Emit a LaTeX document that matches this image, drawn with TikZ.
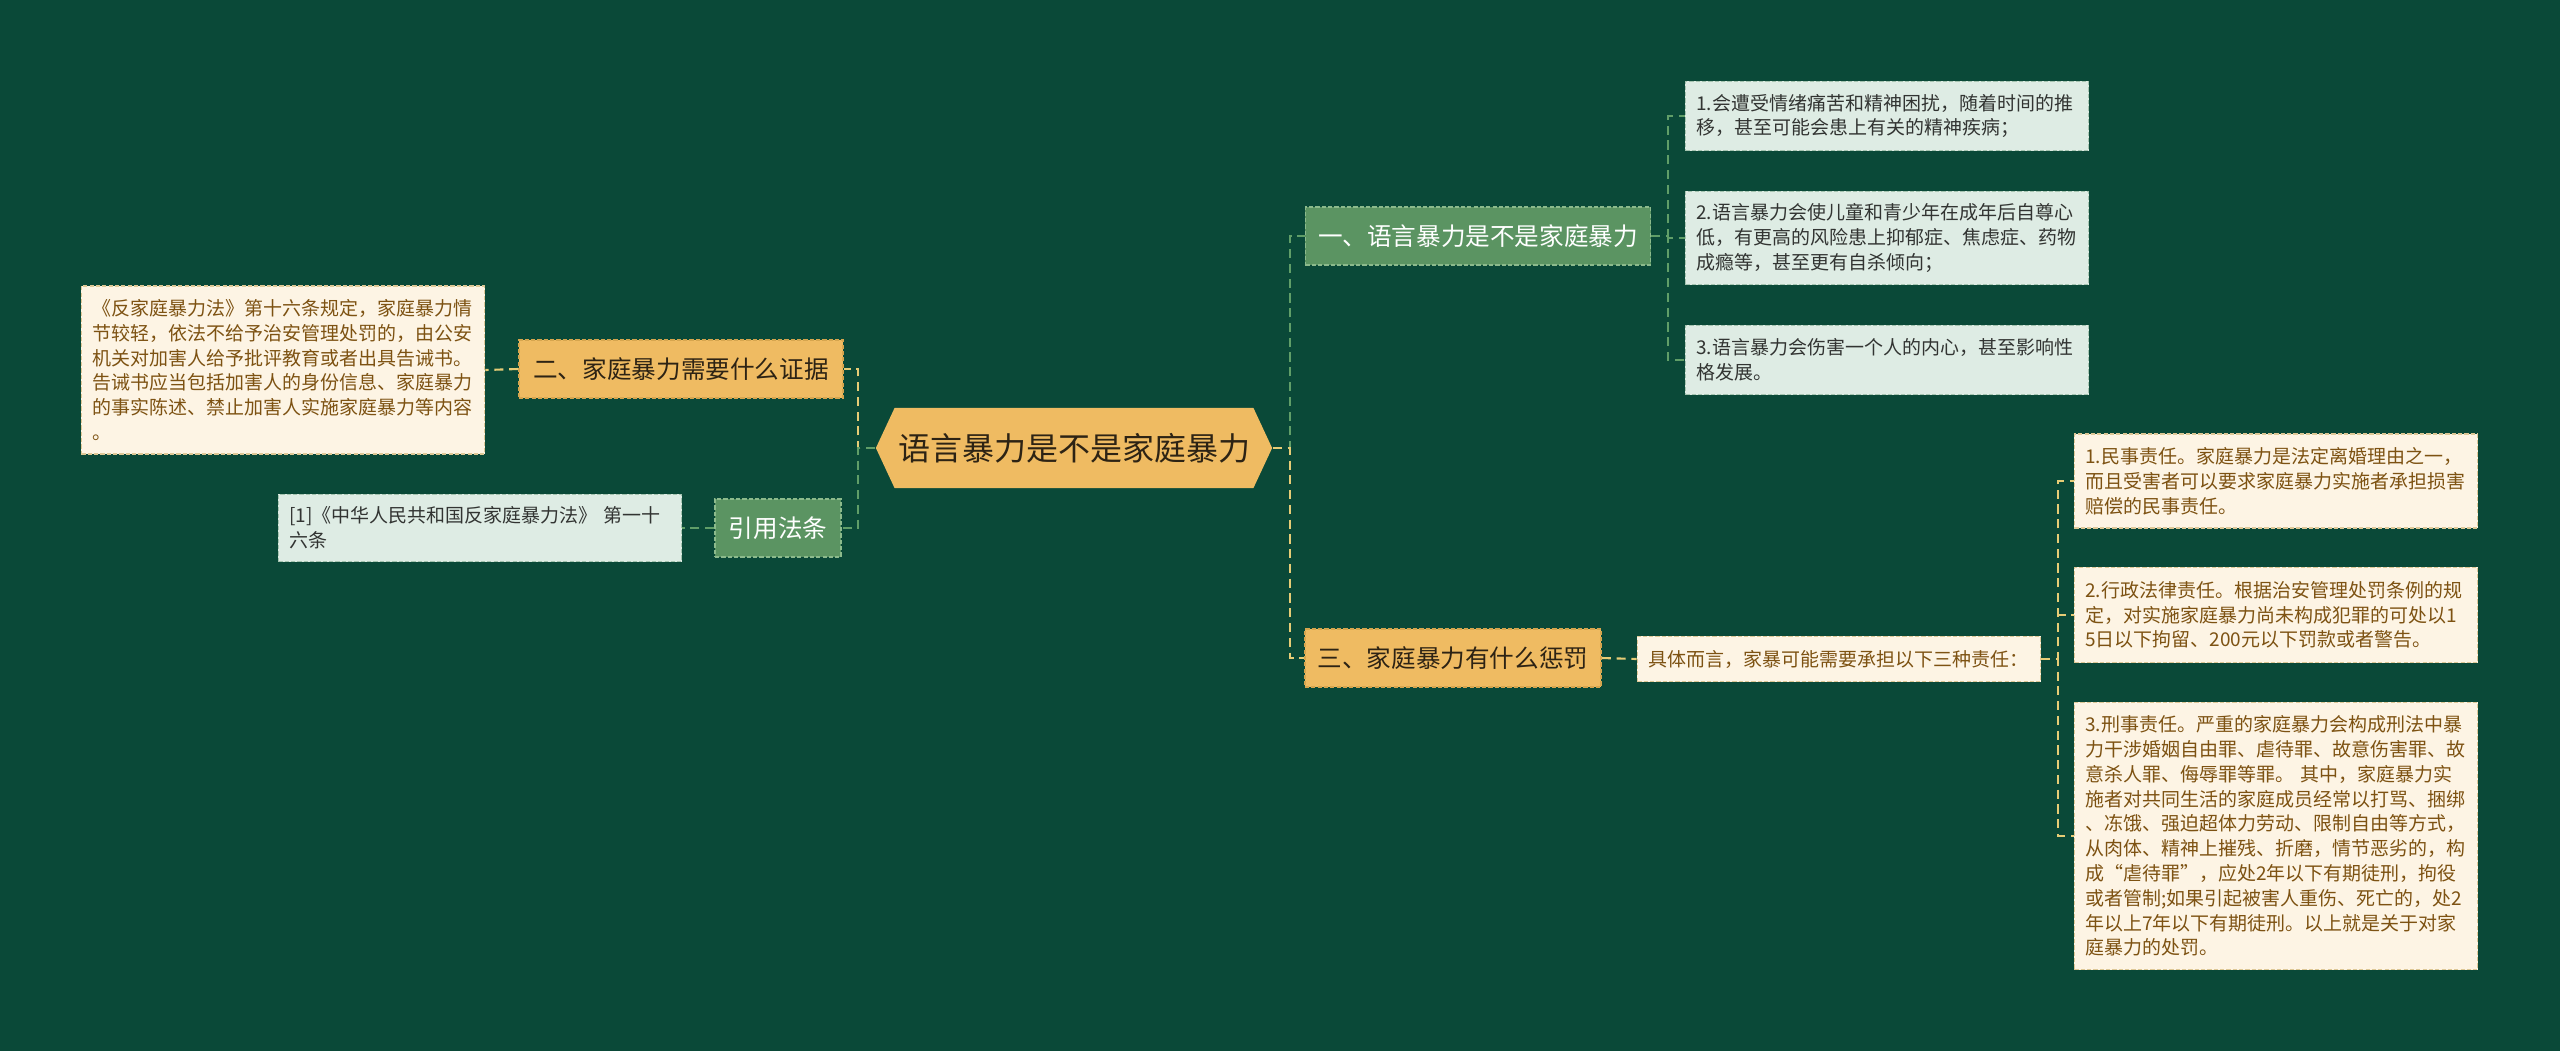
\documentclass[tikz,border=0pt]{standalone}
\usepackage{fontspec}
\setmainfont{Noto Sans CJK SC}
\usepackage{tikz}
\usetikzlibrary{shapes.symbols, positioning}
\definecolor{mybg}{RGB}{10,73,56}
\definecolor{mygreen}{RGB}{91,148,98}
\definecolor{myorange}{RGB}{239,187,98}
\definecolor{mymint}{RGB}{222,236,228}
\definecolor{mycream}{RGB}{253,244,228}
\definecolor{mybrown}{RGB}{125,82,18}
\definecolor{mydark}{RGB}{45,35,20}
\definecolor{mygray}{RGB}{50,52,50}
\definecolor{edgegreen}{RGB}{140,186,140}
\definecolor{edgeorange}{RGB}{214,165,78}
\definecolor{edgemint}{RGB}{165,196,176}
\definecolor{edgecream}{RGB}{222,200,150}
\definecolor{lngreen}{RGB}{96,158,104}
\definecolor{lnyellow}{RGB}{230,204,118}
\tikzset{
  hub/.style={shape=signal, signal to=east and west, signal pointer angle=130,
    fill=myorange, text=mydark, minimum width=3.96cm, minimum height=0.8cm,
    inner xsep=0pt, font=\fontsize{9.1pt}{11pt}\selectfont},
  greenbox/.style={rectangle, fill=mygreen, draw=edgegreen, line width=0.4pt,
    dash pattern=on 1.2pt off 0.6pt, text=white, minimum height=0.58cm,
    inner xsep=0pt, font=\fontsize{7pt}{8.5pt}\selectfont},
  orangebox/.style={rectangle, fill=myorange, draw=edgeorange, line width=0.4pt,
    dash pattern=on 1.2pt off 0.6pt, text=mydark, minimum height=0.58cm,
    inner xsep=0pt, font=\fontsize{7pt}{8.5pt}\selectfont},
  mintleaf/.style={rectangle, fill=mymint, draw=edgemint, line width=0.4pt,
    dash pattern=on 1.2pt off 0.6pt, text=mygray, text width=3.81cm,
    align=left, inner xsep=0.11cm, inner ysep=0pt,
    font=\fontsize{5.4pt}{7.05pt}\selectfont},
  creamleaf/.style={rectangle, fill=mycream, draw=edgecream, line width=0.4pt,
    dash pattern=on 1.2pt off 0.6pt, text=mybrown, text width=3.81cm,
    align=left, inner xsep=0.11cm, inner ysep=0pt,
    font=\fontsize{5.4pt}{7.05pt}\selectfont},
  gline/.style={draw=lngreen, line width=0.6pt, dash pattern=on 2.6pt off 1.6pt},
  yline/.style={draw=lnyellow, line width=0.6pt, dash pattern=on 2.6pt off 1.6pt}
}
\begin{document}
\begin{tikzpicture}[x=0.01cm, y=-0.01cm]
  \useasboundingbox (0,0) rectangle (2560,1051);
  \fill[mybg] (0,0) rectangle (2560,1051);

  % centre
  \node[hub] (root) at (1074,448) {语言暴力是不是家庭暴力};

  % first level
  \node[greenbox, minimum width=3.45cm] (one) at (1478,236) {一、语言暴力是不是家庭暴力};
  \node[orangebox, minimum width=2.96cm] (three) at (1453,658) {三、家庭暴力有什么惩罚};
  \node[orangebox, minimum width=3.24cm] (two) at (681,369) {二、家庭暴力需要什么证据};
  \node[greenbox, minimum width=1.26cm] (cite) at (778,528) {引用法条};

  % left leaves
  \node[creamleaf, minimum height=1.68cm] (twotxt) at (283,370)
    {《反家庭暴力法》第十六条规定，家庭暴力情\\节较轻，依法不给予治安管理处罚的，由公安\\机关对加害人给予批评教育或者出具告诫书。\\告诫书应当包括加害人的身份信息、家庭暴力\\的事实陈述、禁止加害人实施家庭暴力等内容\\。};
  \node[mintleaf, minimum height=0.67cm] (citetxt) at (480,528)
    {[1]《中华人民共和国反家庭暴力法》 第一十\\六条};

  % right leaves of branch one
  \node[mintleaf, minimum height=0.69cm] (oneA) at (1887,116)
    {1.会遭受情绪痛苦和精神困扰，随着时间的推\\移，甚至可能会患上有关的精神疾病；};
  \node[mintleaf, minimum height=0.93cm] (oneB) at (1887,238)
    {2.语言暴力会使儿童和青少年在成年后自尊心\\低，有更高的风险患上抑郁症、焦虑症、药物\\成瘾等，甚至更有自杀倾向；};
  \node[mintleaf, minimum height=0.69cm] (oneC) at (1887,360)
    {3.语言暴力会伤害一个人的内心，甚至影响性\\格发展。};

  % branch three
  \node[creamleaf, minimum height=0.45cm] (detail) at (1839,659)
    {具体而言，家暴可能需要承担以下三种责任：};
  \node[creamleaf, minimum height=0.94cm] (threeA) at (2276,481)
    {1.民事责任。家庭暴力是法定离婚理由之一，\\而且受害者可以要求家庭暴力实施者承担损害\\赔偿的民事责任。};
  \node[creamleaf, minimum height=0.95cm] (threeB) at (2276,615)
    {2.行政法律责任。根据治安管理处罚条例的规\\定，对实施家庭暴力尚未构成犯罪的可处以1\\5日以下拘留、200元以下罚款或者警告。};
  \node[creamleaf, minimum height=2.67cm] (threeC) at (2276,836)
    {3.刑事责任。严重的家庭暴力会构成刑法中暴\\力干涉婚姻自由罪、虐待罪、故意伤害罪、故\\意杀人罪、侮辱罪等罪。 其中，家庭暴力实\\施者对共同生活的家庭成员经常以打骂、捆绑\\、冻饿、强迫超体力劳动、限制自由等方式，\\从肉体、精神上摧残、折磨，情节恶劣的，构\\成“虐待罪”，应处2年以下有期徒刑，拘役\\或者管制;如果引起被害人重伤、死亡的，处2\\年以上7年以下有期徒刑。以上就是关于对家\\庭暴力的处罚。};

  % connectors
  \draw[gline] (root.east) -- ++(17,0) |- (one.west);
  \draw[yline] (root.east) -- ++(17,0) |- (three.west);
  \draw[yline] (root.west) -- ++(-17,0) |- (two.east);
  \draw[gline] (root.west) -- ++(-17,0) |- (cite.east);
  \draw[yline] (two.west) -- (twotxt.east);
  \draw[gline] (cite.west) -- (citetxt.east);
  \draw[gline] (one.east) -- ++(17,0) |- (oneA.west);
  \draw[gline] (one.east) -- ++(17,0) |- (oneB.west);
  \draw[gline] (one.east) -- ++(17,0) |- (oneC.west);
  \draw[yline] (three.east) -- (detail.west);
  \draw[yline] (detail.east) -- ++(17,0) |- (threeA.west);
  \draw[yline] (detail.east) -- ++(17,0) |- (threeB.west);
  \draw[yline] (detail.east) -- ++(17,0) |- (threeC.west);
\end{tikzpicture}
\end{document}
